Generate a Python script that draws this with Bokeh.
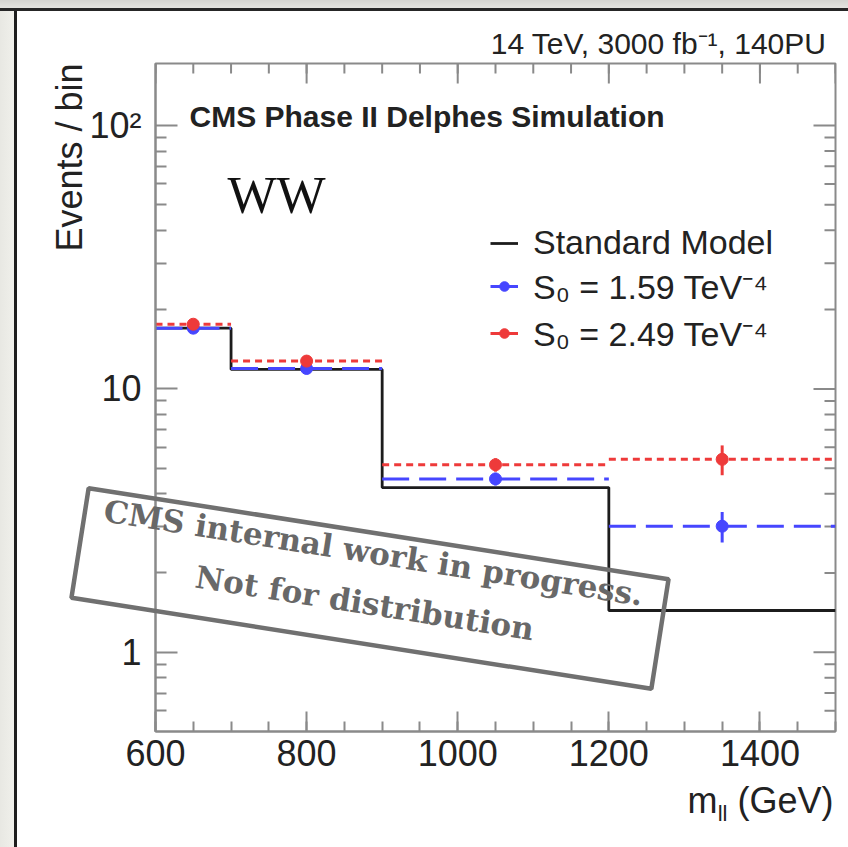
import numpy as np
from bokeh.plotting import figure
from bokeh.models import (FixedTicker, Label, Legend, LegendItem,
                          PolyAnnotation, Spacer, Range1d)
from bokeh.layouts import column, row
from bokeh.embed import file_html
from bokeh.resources import INLINE

# ---------------- data ----------------
bin_edges = [600, 700, 900, 1200, 1500]
bin_centers = [650, 800, 1050, 1350]
sm_values = [17.0, 11.85, 4.22, 1.44]
s0a_values = [17.0, 11.95, 4.55, 3.01]     # S0 = 1.59 TeV^-4
s0a_errors = [0.45, 0.40, 0.25, 0.40]
s0b_values = [17.6, 12.75, 5.15, 5.40]     # S0 = 2.49 TeV^-4
s0b_errors = [0.50, 0.45, 0.30, 0.70]
x_tick_values = [600, 800, 1000, 1200, 1400]
y_tick_values = [1, 10, 100]
y_tick_labels = ["1", "10", "10²"]
legend_labels = ["Standard Model", "S₀ = 1.59 TeV⁻⁴", "S₀ = 2.49 TeV⁻⁴"]

# ---------------- geometry ----------------
W, H = 848, 847
SL, ST = 17, 11                      # slide border strips
FL, FR, FT, FB = 155, 835, 63, 731   # frame in page pixels
XLO, XHI = 600, 1500
YLO, YHI = 0.5, 172.0

SANS = "Liberation Sans"
GRAY = "#8a8a8a"
BLUE = "#4646ff"
RED = "#ee3a3a"
BLACK = "#1c1c1c"
TXT = "#222222"

p = figure(width=W - SL, height=H - ST,
           x_range=Range1d(XLO, XHI), y_range=Range1d(YLO, YHI),
           y_axis_type="log", output_backend="svg", toolbar_location=None,
           min_border_left=FL - SL, min_border_right=W - FR,
           min_border_top=FT - ST, min_border_bottom=H - FB,
           background_fill_color="white", border_fill_color="white")
p.xgrid.grid_line_color = None
p.ygrid.grid_line_color = None
p.outline_line_color = GRAY
p.outline_line_width = 2

x_minor = list(range(XLO, XHI + 1, 50))
xticker = FixedTicker(ticks=x_tick_values, minor_ticks=x_minor)
y_minor = [m * 10.0 ** k for k in (-1, 0, 1, 2) for m in range(2, 10)]
y_minor = [t for t in y_minor if YLO < t < YHI]
yticker = FixedTicker(ticks=y_tick_values, minor_ticks=y_minor)


def style_axis(ax, major_in, minor_in):
    ax.axis_line_color = GRAY
    ax.axis_line_width = 2
    ax.major_tick_line_color = GRAY
    ax.major_tick_line_width = 2
    ax.minor_tick_line_color = GRAY
    ax.minor_tick_line_width = 2
    ax.major_tick_in = major_in
    ax.major_tick_out = 0
    ax.minor_tick_in = minor_in
    ax.minor_tick_out = 0
    ax.major_label_text_font = SANS
    ax.major_label_text_font_size = "36px"
    ax.major_label_text_color = TXT


xa = p.xaxis[0]
xa.ticker = xticker
style_axis(xa, 20, 10)
xa.major_label_standoff = 8
ya = p.yaxis[0]
ya.ticker = yticker
style_axis(ya, 22, 11)
ya.major_label_standoff = 14
ya.major_label_overrides = dict(zip(y_tick_values, y_tick_labels))

# mirrored ticks on the top and right edges of the frame
x_major_all = x_tick_values + [XHI]
p.ray(x=x_major_all, y=[YHI] * len(x_major_all), length=20, length_units="screen",
      angle=-np.pi / 2, line_color=GRAY, line_width=2)
p.ray(x=x_minor, y=[YHI] * len(x_minor), length=10, length_units="screen",
      angle=-np.pi / 2, line_color=GRAY, line_width=2)
p.ray(x=[XHI] * len(y_tick_values), y=y_tick_values, length=22, length_units="screen",
      angle=np.pi, line_color=GRAY, line_width=2)
p.ray(x=[XHI] * len(y_minor), y=y_minor, length=11, length_units="screen",
      angle=np.pi, line_color=GRAY, line_width=2)

# ---------------- data marks ----------------
sx, sy = [], []
for i, val in enumerate(sm_values):
    sx += [bin_edges[i], bin_edges[i + 1]]
    sy += [val, val]
sm_r = p.line(sx, sy, line_color=BLACK, line_width=2.8)

lo_edges, hi_edges = bin_edges[:-1], bin_edges[1:]


def signal(vals, errs, color, dash):
    p.segment(x0=lo_edges, x1=hi_edges, y0=vals, y1=vals,
              line_color=color, line_width=3, line_dash=dash)
    err = p.segment(x0=bin_centers, x1=bin_centers,
                    y0=[a - e for a, e in zip(vals, errs)],
                    y1=[a + e for a, e in zip(vals, errs)],
                    line_color=color, line_width=3)
    pts = p.scatter(bin_centers, vals, size=12, fill_color=color, line_color=color)
    return err, pts


a_err, a_pts = signal(s0a_values, s0a_errors, BLUE, "27 10")
b_err, b_pts = signal(s0b_values, s0b_errors, RED, "7 5")

legend = Legend(items=[
    LegendItem(label=legend_labels[0], renderers=[sm_r]),
    LegendItem(label=legend_labels[1], renderers=[a_err, a_pts]),
    LegendItem(label=legend_labels[2], renderers=[b_err, b_pts]),
], location=(335, 375))
legend.label_text_font = SANS
legend.label_text_font_size = "34px"
legend.label_text_color = TXT
legend.glyph_width = 28
legend.glyph_height = 24
legend.label_height = 24
legend.label_standoff = 15
legend.spacing = 1
legend.padding = 0
legend.margin = 0
legend.border_line_color = None
legend.background_fill_alpha = 0
p.add_layout(legend, "center")

# ---------------- slide border ----------------
top_strip = Spacer(width=W, height=ST, styles={
    "background": "linear-gradient(to bottom, #d4d4d0 0px, #e4e4e0 8px, #262626 8px, #262626 11px)"})
left_strip = Spacer(width=SL, height=H - ST, styles={
    "background": "linear-gradient(to right, #e8e8e3 0px, #f0f0eb 14px, #1e1e1e 14px, #1e1e1e 17px)"})
main_layout = column(top_strip, row(left_strip, p))

# ---------------- overlay canvas (own root, page-pixel coords) for texts + watermark -----
ov = figure(width=W, height=H, title=None,
            x_range=Range1d(0, W), y_range=Range1d(H, 0),
            output_backend="svg", toolbar_location=None,
            x_axis_location=None, y_axis_location=None,
            min_border=0, min_border_left=0, min_border_right=0,
            min_border_top=0, min_border_bottom=0,
            background_fill_alpha=0, border_fill_alpha=0)
ov.grid.visible = False
ov.outline_line_color = None


def label(px, py, text, size, font=SANS, color=TXT, **kw):
    ov.add_layout(Label(x=px, y=py, text=text, text_font=font,
                        text_font_size=f"{size}px", text_color=color,
                        text_baseline="middle", **kw))


# (py values are the vertical centre of the capital letters)
label(826, 53 - 0.35 * 30, "14 TeV, 3000 fb⁻¹, 140PU", 30, text_align="right")
label(189, 126 - 0.35 * 30, "CMS Phase II Delphes Simulation", 30,
      text_align="left", text_font_style="bold")
label(227, 212 - 0.33 * 52, "WW", 52, font="Liberation Serif", color="#111111",
      text_align="left")
label(82 - 0.35 * 36, 63, "Events / bin", 36, text_align="right", angle=np.pi / 2)
label(833, 813 - 0.35 * 36, "(GeV)", 36, text_align="right")
label(727, 821 - 0.35 * 22, "ll", 22, text_align="right")
label(717, 813 - 0.35 * 36, "m", 36, text_align="right")

th = np.deg2rad(8.92)
u = np.array([np.cos(th), np.sin(th)])
v = np.array([-np.sin(th), np.cos(th)])
c = np.array([369.5, 588.0])
bw, bh = 587, 111
corners = [c + a * u * bw / 2 + b * v * bh / 2 for a, b in [(-1, -1), (1, -1), (1, 1), (-1, 1)]]
ov.add_layout(PolyAnnotation(xs=[q[0] for q in corners], ys=[q[1] for q in corners],
                             fill_alpha=0, line_color="#707070", line_alpha=1.0, line_width=4.5))
for off_u, off_v, txt in [(-2, -36, "CMS internal work in progress."),
                          (-3, 15, "Not for distribution")]:
    q = c + off_u * u + off_v * v
    label(q[0], q[1], txt, 31, font="DejaVu Serif", color="#686868",
          text_align="center", text_font_style="bold", angle=-th)

overlay = column(ov, styles={"margin-top": f"-{H}px"})

open("out.html", "w").write(file_html([main_layout, overlay], INLINE))
